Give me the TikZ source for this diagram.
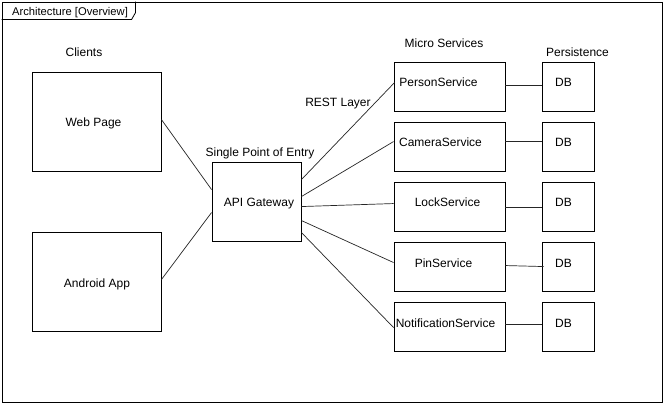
\documentclass[tikz,border=0pt]{standalone}
\usepackage{fontspec}
\setmainfont{Liberation Sans}
\usetikzlibrary{calc}
\begin{document}
\begin{tikzpicture}[x=1pt,y=-1pt,
  every node/.style={font=\fontsize{12}{14}\selectfont},
  box/.style={draw=black,line width=0.9pt,rectangle,inner sep=0pt,fill=white},
  svc/.style={box,minimum width=111,minimum height=49},
  dbbox/.style={box,minimum width=52,minimum height=49},
  lbl/.style={anchor=base,inner sep=0pt},
  conn/.style={draw=black!85,line width=0.7pt}]
\useasboundingbox (0,0) rectangle (666,406);
\fill[white] (0,0) rectangle (666,406);
% frame
\node[draw=black,line width=0.9pt,inner sep=0pt,minimum width=660,minimum height=400] (frame) at (332,202) {};
\coordinate (tabA) at ($(frame.north west)+(0,18)$);
\coordinate (tabB) at ($(frame.north west)+(130,18)$);
\coordinate (tabC) at ($(frame.north west)+(134,11)$);
\coordinate (tabD) at ($(frame.north west)+(134,0)$);
\draw[line width=0.8pt] (tabA) -- (tabB) -- (tabC) -- (tabD);
\node[lbl,font=\fontsize{11.2}{13}\selectfont] (title) at (70,16) {Architecture [Overview]};
% headings
\node[lbl] (clients) at (84,57) {Clients};
\node[lbl] (spoe) at (260,157) {Single Point of Entry};
\node[lbl] (rest) at (338,107) {REST Layer};
\node[lbl] (micro) at (444,48) {Micro Services};
\node[lbl] (persist) at (577.5,57) {Persistence};
% client boxes
\node[box,minimum width=129,minimum height=99] (web) at (96.5,121.5) {};
\node[lbl] (webt) at (93.5,127) {Web Page};
\node[box,minimum width=129,minimum height=99] (android) at (96.5,281.5) {};
\node[lbl] (androidt) at (97,287) {Android App};
% gateway
\node[box,minimum width=89,minimum height=79] (api) at (256.5,201.5) {};
\node[lbl] (apit) at (259,207) {API Gateway};
% services
\node[svc] (person) at (449.5,86.5) {};
\node[svc] (camera) at (449.5,146.5) {};
\node[svc] (lock) at (449.5,206.5) {};
\node[svc] (pin) at (449.5,266.5) {};
\node[svc] (notif) at (449.5,326.5) {};
\node[lbl] (persont) at (438.5,87) {PersonService};
\node[lbl] (camerat) at (440.5,147) {CameraService};
\node[lbl] (lockt) at (447.5,207) {LockService};
\node[lbl] (pint) at (443.5,267) {PinService};
\node[lbl] (notift) at (445.5,327) {NotificationService};
% dbs
\foreach \n/\y in {1/86.5,2/146.5,3/206.5,4/266.5,5/326.5}{
  \node[dbbox] (db\n) at (568,\y) {};
  \node[lbl] (dbt\n) at (563.5,\y+0.5) {DB};
}
% connectors clients -> gateway
\draw[conn] ($(web.north east)+(0,48)$) -- ($(api.north west)+(0,28)$);
\draw[conn] ($(android.north east)+(0,48)$) -- ($(api.north west)+(0,51)$);
% gateway -> services
\draw[conn] ($(api.north east)+(0,18)$) -- ($(person.north west)+(1,21)$);
\draw[conn] ($(api.north east)+(0,35)$) -- ($(camera.north west)+(0,20)$);
\draw[conn] ($(api.north east)+(0,45)$) -- ($(lock.north west)+(0,22)$);
\draw[conn] ($(api.north east)+(0,59)$) -- ($(pin.north west)+(0,21)$);
\draw[conn] ($(api.north east)+(0,71)$) -- ($(notif.north west)+(0,26)$);
% services -> dbs
\draw[conn] ($(person.north east)+(0,24)$) -- ($(db1.north west)+(0,24)$);
\draw[conn] ($(camera.north east)+(0,20)$) -- ($(db2.north west)+(0,20)$);
\draw[conn] ($(lock.north east)+(0,26)$) -- ($(db3.north west)+(0,26)$);
\draw[conn] ($(pin.north east)+(0,24)$) -- ($(db4.north west)+(2,25)$);
\draw[conn] ($(notif.north east)+(0,23)$) -- ($(db5.north west)+(0,23)$);
\end{tikzpicture}
\end{document}
